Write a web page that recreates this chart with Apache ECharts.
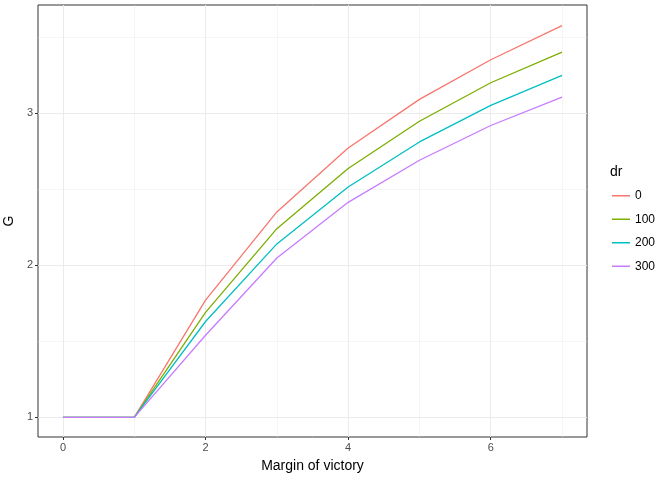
<!DOCTYPE html>
<html>
<head>
<meta charset="utf-8">
<script src="https://cdn.jsdelivr.net/npm/echarts@6/dist/echarts.min.js"></script>
<style>
  html, body { margin: 0; padding: 0; background: #fff; }
  #chart { width: 672px; height: 480px; }
</style>
</head>
<body>
<div id="chart"></div>
<script>
var margins = [0, 1, 2, 3, 4, 5, 6, 7]
var dr0 = [1, 1, 1.77, 2.35, 2.77, 3.09, 3.35, 3.575]
var dr100 = [1, 1, 1.69, 2.24, 2.635, 2.946, 3.199, 3.40]
var dr200 = [1, 1, 1.63, 2.14, 2.514, 2.81, 3.05, 3.247]
var dr300 = [1, 1, 1.54, 2.047, 2.413, 2.69, 2.918, 3.105]
var drNames = ['0', '100', '200', '300']
var colors = ['#F8766D', '#7CAE00', '#00BFC4', '#C77CFF']

var xTicks = [0, 2, 4, 6]
var xMinor = [1, 3, 5, 7]
var yTicks = [1, 2, 3]
var yMinor = [1.5, 2.5, 3.5]

function pairs(ys) {
  return margins.map(function (x, i) { return [x, ys[i]] })
}

// grid lines drawn as markLines so they sit on the tick values
var gridLines = []
xTicks.forEach(function (v) { gridLines.push({ xAxis: v, lineStyle: { width: 1 } }) })
xMinor.forEach(function (v) { gridLines.push({ xAxis: v, lineStyle: { width: 0.5 } }) })
yTicks.forEach(function (v) { gridLines.push({ yAxis: v, lineStyle: { width: 1 } }) })
yMinor.forEach(function (v) { gridLines.push({ yAxis: v, lineStyle: { width: 0.5 } }) })

var allSeries = [dr0, dr100, dr200, dr300].map(function (d, i) {
  return {
    name: drNames[i],
    type: 'line',
    data: pairs(d),
    showSymbol: false,
    symbol: 'none',
    z: 3,
    lineStyle: { color: colors[i], width: 1.3 },
    itemStyle: { color: colors[i] }
  }
})
allSeries.unshift({
  type: 'line',
  data: [],
  z: 0,
  silent: true,
  markLine: {
    z: 0,
    silent: true,
    symbol: 'none',
    label: { show: false },
    animation: false,
    lineStyle: { color: '#EBEBEB', type: 'solid' },
    data: gridLines
  }
})

var chart = echarts.init(document.getElementById('chart'))
chart.setOption({
  animation: false,
  grid: {
    left: 38, top: 5, width: 549, height: 432,
    outerBoundsMode: 'none',
    containLabel: false,
    show: true, borderColor: '#333333', borderWidth: 1, backgroundColor: '#fff'
  },
  xAxis: {
    type: 'value',
    min: -0.35, max: 7.35,
    name: 'Margin of victory',
    nameLocation: 'middle',
    nameGap: 22,
    nameTextStyle: { color: '#000', fontSize: 14, fontFamily: 'Liberation Sans' },
    axisLine: { show: false, onZero: false },
    splitLine: { show: false },
    axisTick: { show: true, length: 3, customValues: xTicks, lineStyle: { color: '#333' } },
    axisLabel: { customValues: xTicks, color: '#4D4D4D', fontSize: 11, margin: 5, fontFamily: 'Liberation Sans' }
  },
  yAxis: {
    type: 'value',
    min: 0.871, max: 3.71,
    name: 'G',
    nameLocation: 'middle',
    nameGap: 17,
    nameRotate: 90,
    nameTextStyle: { color: '#000', fontSize: 14, fontFamily: 'Liberation Sans' },
    axisLine: { show: false, onZero: false },
    splitLine: { show: false },
    axisTick: { show: true, length: 3, customValues: yTicks, lineStyle: { color: '#333' } },
    axisLabel: { customValues: yTicks, color: '#4D4D4D', fontSize: 11, margin: 5, fontFamily: 'Liberation Sans' }
  },
  legend: {
    orient: 'vertical',
    left: 607,
    top: 183,
    data: drNames,
    icon: 'rect',
    itemWidth: 18,
    itemHeight: 1.5,
    itemGap: 8,
    textStyle: { color: '#000', fontSize: 12, lineHeight: 15.5, fontFamily: 'Liberation Sans' }
  },
  graphic: [{
    type: 'text',
    left: 610,
    top: 165,
    style: { text: 'dr', fill: '#000', fontSize: 14, fontFamily: 'Liberation Sans' }
  }],
  series: allSeries
})
</script>
</body>
</html>
